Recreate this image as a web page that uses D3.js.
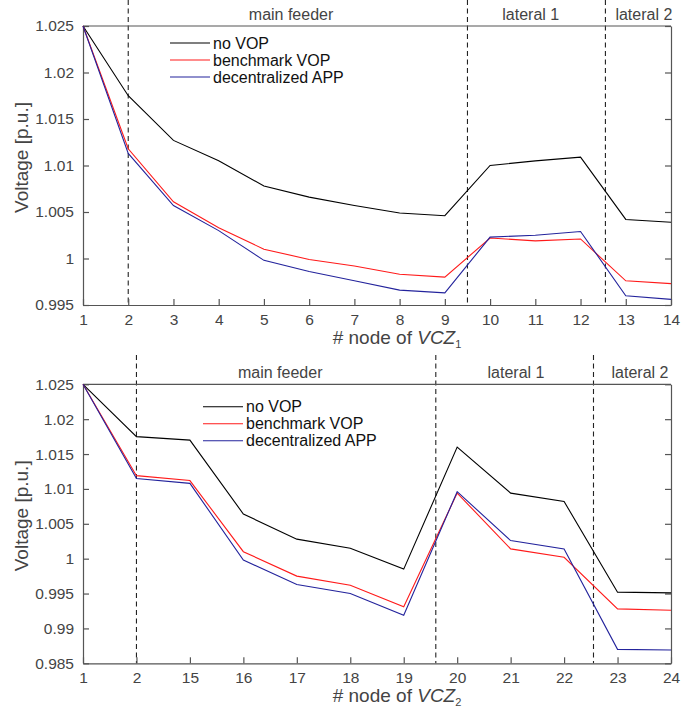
<!DOCTYPE html>
<html>
<head>
<meta charset="utf-8">
<title>Voltage profiles VCZ1 / VCZ2</title>
<script src="https://cdn.jsdelivr.net/npm/d3@7"></script>
<style>
  body { margin: 0; background: #fff; }
  text { font-family: "Liberation Sans", Arial, Helvetica, sans-serif; }
</style>
</head>
<body>
<div id="chart"></div>
<script>
// ---- data ----
var nodes1 = ["1","2","3","4","5","6","7","8","9","10","11","12","13","14"];
var noVop1 = [1.025, 1.0175, 1.0127, 1.0105, 1.0078, 1.0066, 1.0057, 1.0049, 1.0046, 1.0100, 1.0105, 1.0109, 1.0042, 1.0039];
var bench1 = [1.025, 1.0118, 1.0061, 1.0033, 1.0010, 0.9999, 0.9992, 0.9983, 0.9980, 1.0022, 1.0019, 1.0021, 0.9976, 0.9973];
var decen1 = [1.025, 1.0113, 1.0057, 1.0030, 0.9998, 0.9986, 0.9976, 0.9966, 0.9963, 1.0023, 1.0025, 1.0029, 0.9960, 0.9956];
var yTicks1 = [0.995, 1, 1.005, 1.01, 1.015, 1.02, 1.025];
var zones1 = [1, 8.5, 11.55];          // dashed separators (category index)
var zoneLabels1 = [["main feeder", 4.6], ["lateral 1", 9.9], ["lateral 2", 12.4]];

var nodes2 = ["1","2","15","16","17","18","19","20","21","22","23","24"];
var noVop2 = [1.025, 1.0175, 1.0170, 1.0064, 1.0028, 1.0015, 0.9985, 1.0160, 1.0094, 1.0082, 0.9952, 0.9951];
var bench2 = [1.025, 1.0119, 1.0112, 1.0010, 0.9975, 0.9962, 0.9931, 1.0094, 1.0014, 1.0002, 0.9928, 0.9926];
var decen2 = [1.025, 1.0115, 1.0108, 0.9998, 0.9963, 0.9950, 0.9919, 1.0096, 1.0026, 1.0014, 0.9870, 0.9869];
var yTicks2 = [0.985, 0.99, 0.995, 1, 1.005, 1.01, 1.015, 1.02, 1.025];
var zones2 = [1, 6.6, 9.55];
var zoneLabels2 = [["main feeder", 3.69], ["lateral 1", 8.1], ["lateral 2", 10.42]];

var seriesNames = ["no VOP", "benchmark VOP", "decentralized APP"];
var seriesColors = ["#000000", "#ff1a1a", "#23239c"];

var width = 683, height = 715;
var axisColor = "#555", textColor = "#444";

var svg = d3.select("#chart").append("svg")
  .attr("width", width)
  .attr("height", height);

function panel(p) {
  var x = d3.scaleLinear().domain([0, p.nodes.length - 1]).range([83, 671]);
  var y = d3.scaleLinear().domain([p.yTicks[0], p.yTicks[p.yTicks.length - 1]]).range([p.bottom, p.top]);
  var g = svg.append("g");

  // dashed zone separators
  g.selectAll("line.zone").data(p.zones).enter().append("line")
    .attr("class", "zone")
    .attr("x1", d => x(d)).attr("x2", d => x(d))
    .attr("y1", p.dashTop).attr("y2", p.bottom)
    .attr("stroke", "#222").attr("stroke-width", 1.1)
    .attr("stroke-dasharray", "5,3.5");

  // zone labels
  g.selectAll("text.zl").data(p.zoneLabels).enter().append("text")
    .attr("x", d => x(d[1])).attr("y", p.top - 6)
    .attr("text-anchor", "middle")
    .attr("font-size", 16).attr("fill", textColor)
    .text(d => d[0]);

  // axes
  var xAxis = d3.axisBottom(x).tickValues(d3.range(p.nodes.length))
    .tickFormat(i => p.nodes[i]).tickSizeInner(-6).tickSizeOuter(0).tickPadding(9);
  var yAxis = d3.axisLeft(y).tickValues(p.yTicks).tickFormat(d3.format("~g"))
    .tickSizeInner(-6).tickSizeOuter(0).tickPadding(9);
  var yRight = d3.axisRight(y).tickValues(p.yTicks).tickFormat("")
    .tickSizeInner(-6).tickSizeOuter(0);

  var gx = g.append("g").attr("transform", "translate(0," + p.bottom + ")").call(xAxis);
  var gy = g.append("g").attr("transform", "translate(83,0)").call(yAxis);
  var gr = g.append("g").attr("transform", "translate(671,0)").call(yRight);
  [gx, gy, gr].forEach(function(a) {
    a.selectAll("path, line").attr("stroke", axisColor).attr("stroke-width", 1.2);
    a.selectAll("text").attr("fill", textColor).attr("font-size", 15.5)
      .attr("font-family", "'Liberation Sans', Arial, sans-serif");
  });
  g.append("line").attr("x1", 83).attr("x2", 671).attr("y1", p.top).attr("y2", p.top)
    .attr("stroke", axisColor).attr("stroke-width", 1.2);

  // series lines
  var line = d3.line().x((d, i) => x(i)).y(d => y(d));
  p.series.forEach(function(s, k) {
    g.append("path").datum(s)
      .attr("fill", "none")
      .attr("stroke", seriesColors[k])
      .attr("stroke-width", 1.1)
      .attr("d", line);
  });

  // legend
  var lg = g.append("g").attr("transform", "translate(" + p.legend[0] + "," + p.legend[1] + ")");
  seriesNames.forEach(function(n, k) {
    lg.append("line").attr("x1", 0).attr("x2", 40).attr("y1", k * 17).attr("y2", k * 17)
      .attr("stroke", seriesColors[k]).attr("stroke-width", 1.1);
    lg.append("text").attr("x", 43).attr("y", k * 17 + 5.5)
      .attr("font-size", 16).attr("fill", "#111").text(n);
  });

  // axis titles
  g.append("text")
    .attr("transform", "translate(28," + ((p.top + p.bottom) / 2 - 8) + ") rotate(-90)")
    .attr("text-anchor", "middle").attr("font-size", 19).attr("fill", textColor)
    .text("Voltage [p.u.]");
  var xl = g.append("text")
    .attr("x", 397).attr("y", p.bottom + 39)
    .attr("text-anchor", "middle").attr("font-size", 19).attr("fill", textColor);
  xl.append("tspan").text("# node of ");
  xl.append("tspan").attr("font-style", "italic").text("VCZ");
  xl.append("tspan").attr("font-size", 11).attr("dy", 4).text(p.sub);
}

panel({
  nodes: nodes1, yTicks: yTicks1, zones: zones1, zoneLabels: zoneLabels1,
  series: [noVop1, bench1, decen1], top: 26, bottom: 305, dashTop: 0,
  legend: [170, 43], sub: "1"
});
panel({
  nodes: nodes2, yTicks: yTicks2, zones: zones2, zoneLabels: zoneLabels2,
  series: [noVop2, bench2, decen2], top: 384.3, bottom: 663.3, dashTop: 355,
  legend: [203, 406.7], sub: "2"
});
</script>
</body>
</html>
